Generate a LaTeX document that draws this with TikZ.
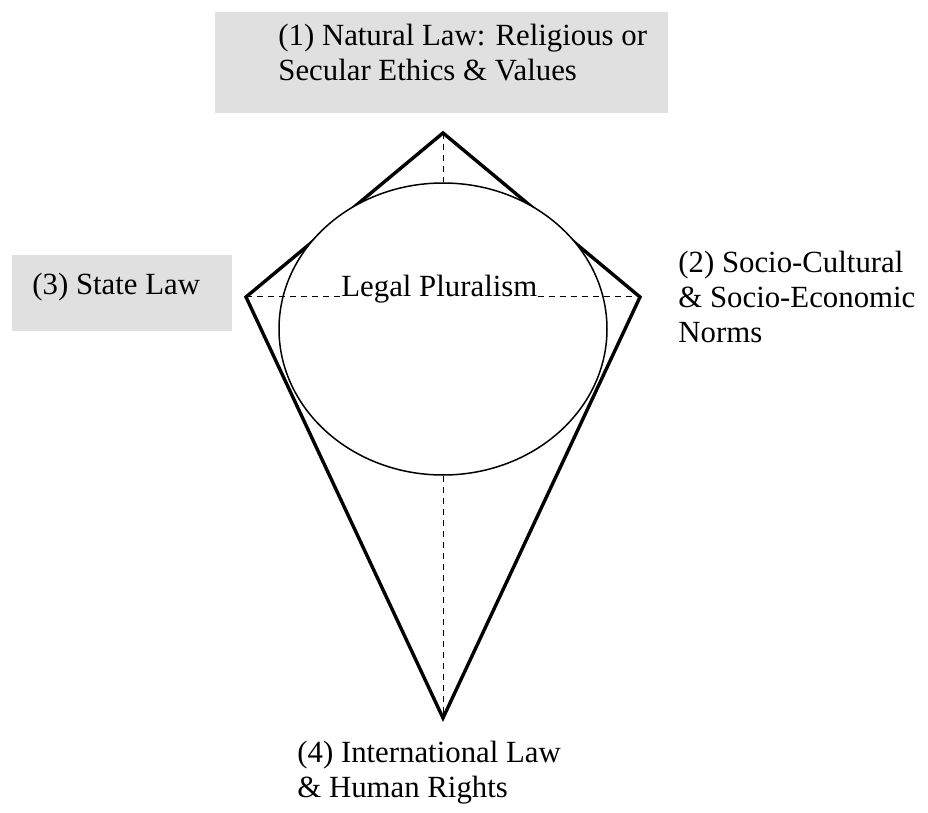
\documentclass[tikz,border=0pt]{standalone}
\usepackage{fontspec}
\setmainfont{Liberation Serif}
\usepackage{tikz}
\usetikzlibrary{shapes.geometric}
\colorlet{boxgray}{black!12}

\begin{document}
\begin{tikzpicture}[x=0.5pt,y=-0.5pt,
        kiteedge/.style={line width=1.7pt, line join=miter},
        guide/.style={line width=0.5pt, dash pattern=on 3pt off 2.5pt},
        lbl/.style={inner sep=0pt, align=left, font=\fontsize{15.4}{17.5}\selectfont}]
        \useasboundingbox (0,0) rectangle (928,813);
        % grey boxes behind labels 1 and 3
        \fill[boxgray] (215,12) rectangle (668,113);
        \fill[boxgray] (12,255) rectangle (232,331);
        % corners
        \coordinate (top) at (443,133);
        \coordinate (left) at (246,297);
        \coordinate (bottom) at (443,718);
        \coordinate (right) at (640,297);
        \draw[kiteedge] (top) -- (right) -- (bottom) -- (left) -- cycle;
        \node[draw, ellipse, fill=white, line width=0.75pt, minimum width=164pt, minimum height=146pt] (plural) at (443,329) {};
        \node[lbl, anchor=base west] (lp) at (341,297) {Legal Pluralism};
        \draw[guide] (top) -- (plural.north);
        \draw[guide] (plural.south) -- (bottom);
        \draw[guide] (left) -- (lp.base west);
        \draw[guide] (lp.base east) -- (right);
        % labels (base = last line)
        \node[lbl, anchor=base west] (natural) at (278,81) {(1) Natural Law: Religious or\\Secular Ethics \& Values};
        \node[lbl, anchor=base west] (socio) at (678,343) {(2) Socio-Cultural\\\& Socio-Economic\\Norms};
        \node[lbl, anchor=base west] (state) at (32,294) {(3) State Law};
        \node[lbl, anchor=base west] (intl) at (297,797) {(4) International Law\\\& Human Rights};
\end{tikzpicture}
\end{document}
